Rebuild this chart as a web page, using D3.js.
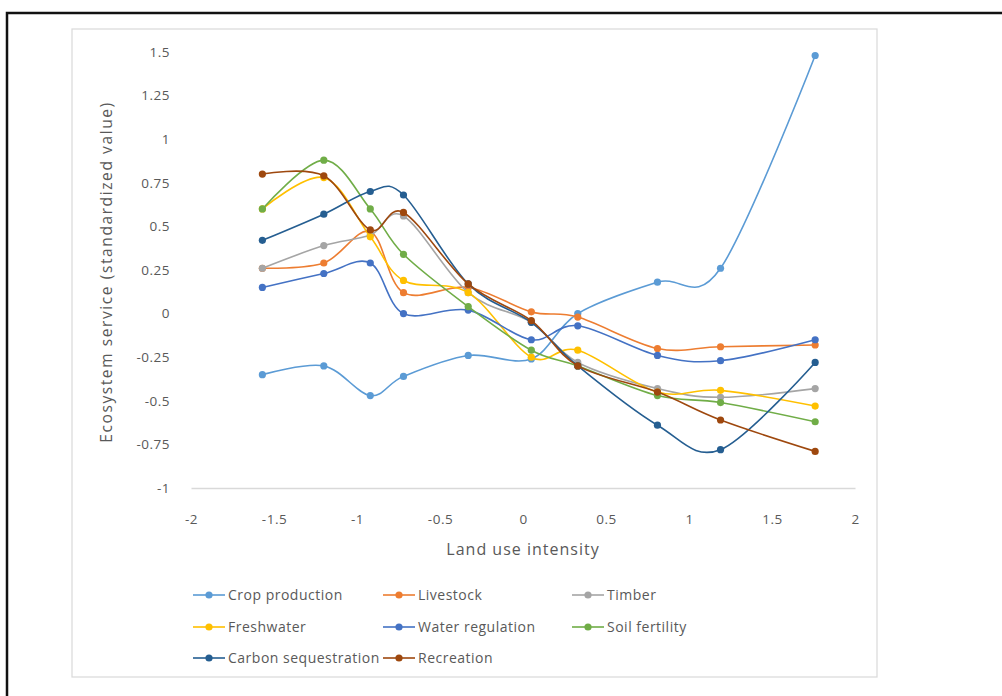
<!DOCTYPE html>
<html lang="en">
<head>
<meta charset="UTF-8">
<title>Land use intensity</title>
<style>
  body { margin: 0; background: #fff; }
  text { font-family: "Open Sans", "DejaVu Sans", sans-serif; fill: #595959; }
</style>
<script src="https://cdnjs.cloudflare.com/ajax/libs/d3/7.8.5/d3.min.js"></script>
</head>
<body>
<script>
// land use intensity (x) shared by all series
var xVals = [-1.57, -1.2, -0.92, -0.72, -0.33, 0.05, 0.33, 0.81, 1.19, 1.76];

// standardized ecosystem service values
var cropProduction      = [-0.35, -0.30, -0.47, -0.36, -0.24, -0.26, 0.00, 0.18, 0.26, 1.48];
var livestock           = [0.26, 0.29, 0.47, 0.12, 0.15, 0.01, -0.02, -0.20, -0.19, -0.18];
var timber              = [0.26, 0.39, 0.45, 0.56, 0.12, -0.05, -0.28, -0.43, -0.48, -0.43];
var freshwater          = [0.60, 0.78, 0.44, 0.19, 0.12, -0.25, -0.21, -0.45, -0.44, -0.53];
var waterRegulation     = [0.15, 0.23, 0.29, 0.00, 0.02, -0.15, -0.07, -0.24, -0.27, -0.15];
var soilFertility       = [0.60, 0.88, 0.60, 0.34, 0.04, -0.21, -0.30, -0.47, -0.51, -0.62];
var carbonSequestration = [0.42, 0.57, 0.70, 0.68, 0.17, -0.05, -0.30, -0.64, -0.78, -0.28];
var recreation          = [0.80, 0.79, 0.48, 0.58, 0.17, -0.04, -0.30, -0.45, -0.61, -0.79];

var seriesNames = ['Crop production', 'Livestock', 'Timber', 'Freshwater',
                   'Water regulation', 'Soil fertility', 'Carbon sequestration', 'Recreation'];
var seriesValues = [cropProduction, livestock, timber, freshwater,
                    waterRegulation, soilFertility, carbonSequestration, recreation];
var seriesColors = ['#5B9BD5', '#ED7D31', '#A5A5A5', '#FFC000',
                    '#4472C4', '#70AD47', '#255E91', '#9E480E'];

var xTicks = [-2, -1.5, -1, -0.5, 0, 0.5, 1, 1.5, 2];
var yTicks = [-1, -0.75, -0.5, -0.25, 0, 0.25, 0.5, 0.75, 1, 1.25, 1.5];

var width = 1002, height = 696;
var svg = d3.select('body').append('svg')
  .attr('width', width)
  .attr('height', height);

// page frame (black, only top and left show)
svg.append('path')
  .attr('d', 'M7,' + height + ' V13 H' + width)
  .attr('fill', 'none')
  .attr('stroke', '#111')
  .attr('stroke-width', 2.5);

// chart area
svg.append('rect')
  .attr('x', 72).attr('y', 29)
  .attr('width', 805).attr('height', 648)
  .attr('fill', '#fff')
  .attr('stroke', '#D9D9D9')
  .attr('stroke-width', 1.2);

var plot = {left: 191, right: 855, top: 52, bottom: 488};

var x = d3.scaleLinear().domain([-2, 2]).range([plot.left, plot.right]);
var y = d3.scaleLinear().domain([-1, 1.5]).range([plot.bottom, plot.top]);

// x axis
var gx = svg.append('g')
  .attr('transform', 'translate(0,' + plot.bottom + ')')
  .call(d3.axisBottom(x).tickValues(xTicks).tickSize(0).tickPadding(26)
    .tickFormat(function(d) { return String(d); }));
gx.select('.domain').attr('stroke', '#D9D9D9').attr('stroke-width', 1.3);
gx.selectAll('text').attr('font-size', '13.5px').attr('letter-spacing', '0.5px').style('font-family', null);

// y axis
var gy = svg.append('g')
  .attr('transform', 'translate(' + plot.left + ',0)')
  .call(d3.axisLeft(y).tickValues(yTicks).tickSize(0).tickPadding(21)
    .tickFormat(function(d) { return String(d); }));
gy.select('.domain').remove();
gy.selectAll('text').attr('font-size', '13.5px').attr('letter-spacing', '0.5px').style('font-family', null);

// axis titles
svg.append('text')
  .attr('x', (plot.left + plot.right) / 2)
  .attr('y', 555)
  .attr('text-anchor', 'middle')
  .attr('font-size', '16px')
  .attr('letter-spacing', '1px')
  .text('Land use intensity');

svg.append('text')
  .attr('transform', 'translate(112,272) rotate(-90)')
  .attr('text-anchor', 'middle')
  .attr('font-size', '15.5px')
  .attr('letter-spacing', '1.6px')
  .text('Ecosystem service (standardized value)');

// series: smooth line + round markers
var line = d3.line()
  .x(function(d) { return x(d[0]); })
  .y(function(d) { return y(d[1]); })
  .curve(d3.curveCatmullRom.alpha(0));

seriesValues.forEach(function(vals, i) {
  var pts = vals.map(function(v, j) { return [xVals[j], v]; });
  var g = svg.append('g');
  g.append('path')
    .attr('d', line(pts))
    .attr('fill', 'none')
    .attr('stroke', seriesColors[i])
    .attr('stroke-width', 1.6);
  g.selectAll('circle')
    .data(pts)
    .enter()
    .append('circle')
    .attr('cx', function(d) { return x(d[0]); })
    .attr('cy', function(d) { return y(d[1]); })
    .attr('r', 3.6)
    .attr('fill', seriesColors[i]);
});

// legend, 3 columns
var legCols = [193, 383, 572];
var legRows = [595, 627, 658];
var legend = svg.selectAll('.leg')
  .data(seriesNames)
  .enter()
  .append('g')
  .attr('class', 'leg')
  .attr('transform', function(d, i) {
    return 'translate(' + legCols[i % 3] + ',' + legRows[Math.floor(i / 3)] + ')';
  });
legend.append('line')
  .attr('x1', 0).attr('x2', 32)
  .attr('stroke', function(d, i) { return seriesColors[i]; })
  .attr('stroke-width', 1.6);
legend.append('circle')
  .attr('cx', 16).attr('r', 3.6)
  .attr('fill', function(d, i) { return seriesColors[i]; });
legend.append('text')
  .attr('x', 35)
  .attr('dy', '0.35em')
  .attr('font-size', '14px')
  .attr('letter-spacing', '0.5px')
  .text(function(d) { return d; });
</script>
</body>
</html>
